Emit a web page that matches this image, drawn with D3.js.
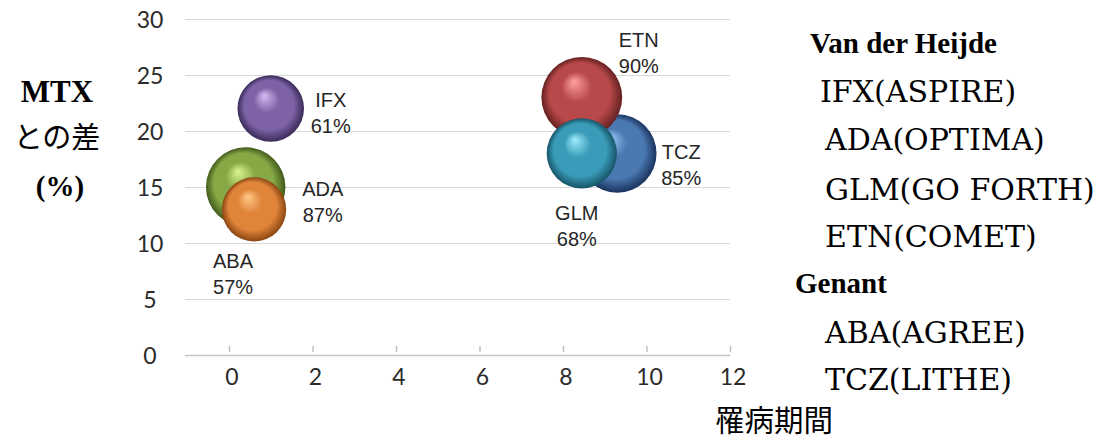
<!DOCTYPE html>
<html><head><meta charset="utf-8">
<script src="https://cdn.jsdelivr.net/npm/d3@7"></script>
<style>
html,body{margin:0;padding:0;background:#fff;}
svg{display:block;}
</style>
</head><body>
<svg id="chart" width="1103" height="441"></svg>
<script>
// ---- data ----
const drugs     = ["IFX", "ADA", "ABA", "TCZ", "ETN", "GLM"];
const duration  = [1.0, 0.4, 0.6, 9.3, 8.45, 8.45];     // x: 罹病期間
const mtxDiff   = [22, 15, 13, 18, 23, 18];             // y: MTX との差 (%)
const sizes     = [61, 87, 57, 85, 90, 68];             // bubble size (%)
const sizeLabels = ["61%", "87%", "57%", "85%", "90%", "68%"];
const xTicks = [0, 2, 4, 6, 8, 10, 12];
const yTicks = [0, 5, 10, 15, 20, 25, 30];
const legendGroups = ["Van der Heijde", "Genant"];
const legendItems = [
  ["IFX(ASPIRE)", "ADA(OPTIMA)", "GLM(GO FORTH)", "ETN(COMET)"],
  ["ABA(AGREE)", "TCZ(LITHE)"]
];
const yTitle = ["MTX", "との差", "(%)"];
const xTitle = "罹病期間";

// ---- styles ----
const palette = {
  IFX: ["#d6baf2", "#7d62a5", "#392a58"],
  ADA: ["#d8f490", "#86a845", "#425a1a"],
  ABA: ["#ffcb88", "#e0843a", "#8a4612"],
  TCZ: ["#9ccaf6", "#4a78b0", "#19335e"],
  ETN: ["#ffa0a0", "#b8484a", "#652020"],
  GLM: ["#a0ecfd", "#3a9cb8", "#165468"]
};
// label offsets from bubble centre (px): [dx, dy of first baseline]
const labelOffsets = {
  IFX: [60, -2], ADA: [77, 9], ABA: [-21, 59],
  TCZ: [64, 6], ETN: [57, -50], GLM: [-5, 67]
};

const svg = d3.select("#chart");
const x = d3.scaleLinear().domain([-1.054, 12]).range([185, 730]);
const y = d3.scaleLinear().domain([0, 30]).range([355, 19]);
const r = d3.scaleSqrt().domain([0, 90]).range([0, 40.4]);

// gradients
const defs = svg.append("defs");
drugs.forEach(d => {
  const g = defs.append("radialGradient").attr("id", "g-" + d)
    .attr("cx", "50%").attr("cy", "50%").attr("r", "50%")
    .attr("fx", "40%").attr("fy", "30%");
  const [hi, base, dark] = palette[d];
  g.append("stop").attr("offset", "0%").attr("stop-color", hi);
  g.append("stop").attr("offset", "38%").attr("stop-color", base);
  g.append("stop").attr("offset", "75%").attr("stop-color", base);
  g.append("stop").attr("offset", "100%").attr("stop-color", dark);
});

// gridlines
svg.append("g").selectAll("line").data(yTicks.filter(t => t > 0)).join("line")
  .attr("x1", x.range()[0]).attr("x2", x.range()[1])
  .attr("y1", d => y(d) + 0.5).attr("y2", d => y(d) + 0.5)
  .attr("stroke", "#d9d9d9").attr("stroke-width", 1.2);
// x axis line
svg.append("line")
  .attr("x1", x.range()[0]).attr("x2", x.range()[1])
  .attr("y1", y(0) + 0.5).attr("y2", y(0) + 0.5)
  .attr("stroke", "#c4c4c4").attr("stroke-width", 1.4);
// x ticks (inside, short, above axis)
svg.append("g").selectAll("line").data(xTicks).join("line")
  .attr("x1", d => x(d) + 0.5).attr("x2", d => x(d) + 0.5)
  .attr("y1", y(0) - 9).attr("y2", y(0) - 3)
  .attr("stroke", "#bdbdbd").attr("stroke-width", 1.4);

// tick labels
const tickFont = "Lato, 'Open Sans', sans-serif";
svg.append("g").selectAll("text").data(yTicks).join("text")
  .attr("x", 150).attr("y", d => y(d) + 9)
  .attr("text-anchor", "middle")
  .style("font-family", tickFont).style("font-size", "23px").attr("fill", "#2b2b2b")
  .text(d => d);
svg.append("g").selectAll("text").data(xTicks).join("text")
  .attr("x", d => x(d) + 3).attr("y", 385)
  .attr("text-anchor", "middle")
  .style("font-family", tickFont).style("font-size", "23px").attr("fill", "#2b2b2b")
  .text(d => d);

// bubbles
const data = drugs.map((d, i) => ({name: d, x: duration[i], y: mtxDiff[i], s: sizes[i], lab: sizeLabels[i]}));
svg.append("g").selectAll("circle").data(data).join("circle")
  .attr("cx", d => x(d.x)).attr("cy", d => y(d.y)).attr("r", d => r(d.s))
  .attr("fill", d => `url(#g-${d.name})`);

// data labels
const lg = svg.append("g").selectAll("text").data(data).join("text")
  .attr("text-anchor", "middle")
  .style("font-family", "'Liberation Sans', Arial, sans-serif").style("font-size", "20px")
  .attr("fill", "#262626");
lg.append("tspan")
  .attr("x", d => x(d.x) + labelOffsets[d.name][0])
  .attr("y", d => y(d.y) + labelOffsets[d.name][1])
  .text(d => d.name);
lg.append("tspan")
  .attr("x", d => x(d.x) + labelOffsets[d.name][0])
  .attr("dy", 26)
  .text(d => d.lab);

// y axis title
const serif = "'Liberation Serif', 'Times New Roman', serif";
const wideSerif = "'DejaVu Serif', serif";
svg.append("text").attr("x", 57).attr("y", 102).attr("text-anchor", "middle")
  .style("font-family", serif).style("font-weight", "bold").style("font-size", "31px")
  .attr("fill", "#000").text(yTitle[0]);
svg.append("text").attr("x", 57).attr("y", 148).attr("text-anchor", "middle")
  .style("font-family", "'Noto Sans CJK JP', sans-serif").style("font-size", "29px")
  .attr("fill", "#000").text(yTitle[1]);
svg.append("text").attr("x", 60).attr("y", 196).attr("text-anchor", "middle")
  .style("font-family", serif).style("font-weight", "bold").style("font-size", "29px")
  .attr("fill", "#000").text(yTitle[2]);

// x axis title
svg.append("text").attr("x", 715).attr("y", 431)
  .style("font-family", "'Noto Sans CJK JP', sans-serif").style("font-size", "29.5px")
  .attr("fill", "#000").text(xTitle);

// legend-like annotation text
const leg = svg.append("g").attr("fill", "#000");
const groupY = [53, 293];
const groupX = [810, 795];
const itemY = [[102, 150, 200, 247], [343, 390]];
const itemX = [[820, 825, 825, 825], [825, 825]];
legendGroups.forEach((gname, gi) => {
  leg.append("text").attr("x", groupX[gi]).attr("y", groupY[gi])
    .style("font-family", serif)
    .style("font-weight", "bold").style("font-size", "29px").text(gname);
  leg.selectAll(null).data(legendItems[gi]).enter().append("text")
    .attr("x", (d, i) => itemX[gi][i]).attr("y", (d, i) => itemY[gi][i])
    .style("font-family", wideSerif)
    .style("font-size", "30px").text(d => d);
});
</script>
</body></html>
